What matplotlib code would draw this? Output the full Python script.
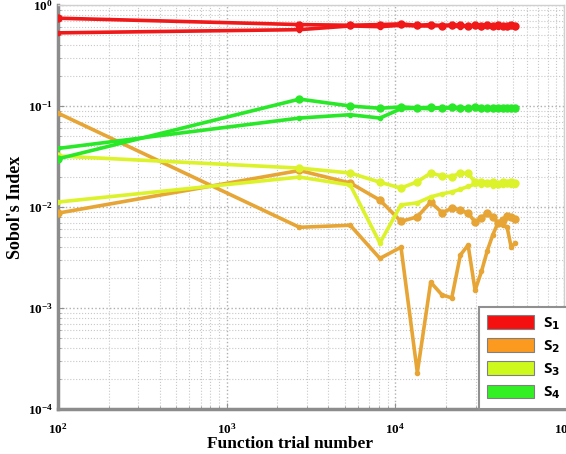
import matplotlib.pyplot as plt
from matplotlib.patches import Patch
from matplotlib.ticker import LogLocator, NullFormatter

plt.rcParams['font.family'] = 'Liberation Serif'
plt.rcParams['font.weight'] = 'bold'

# function trial numbers (x axis)
trials = [100, 2700, 5400, 8100, 10800, 13500, 16200, 18900, 21600, 24300,
          27000, 29700, 32400, 35100, 37800, 40500, 43200, 45900, 48600, 51300]

# two estimates per index
s1_a = [0.74, 0.64, 0.63, 0.64, 0.65, 0.63, 0.64, 0.62, 0.64, 0.63,
        0.62, 0.63, 0.62, 0.63, 0.62, 0.63, 0.62, 0.62, 0.63, 0.62]
s1_b = [0.53, 0.57, 0.62, 0.61, 0.63, 0.62, 0.62, 0.63, 0.62, 0.61,
        0.62, 0.62, 0.61, 0.62, 0.62, 0.61, 0.62, 0.61, 0.62, 0.61]

s2_a = [0.0087, 0.023, 0.0173, 0.0117, 0.0072, 0.0080, 0.0112, 0.0088, 0.0097, 0.0093,
        0.0087, 0.0071, 0.0078, 0.0088, 0.0080, 0.0070, 0.0074, 0.0081, 0.0079, 0.0076]
s2_b = [0.085, 0.0063, 0.0066, 0.0031, 0.0040, 0.00023, 0.0018, 0.00135, 0.00126, 0.00335,
        0.0042, 0.0015, 0.0023, 0.0037, 0.0053, 0.0069, 0.0066, 0.0064, 0.0040, 0.0044]

s3_a = [0.032, 0.0243, 0.0217, 0.0176, 0.0154, 0.0178, 0.0217, 0.0203, 0.0200, 0.0217,
        0.0215, 0.0176, 0.0178, 0.0172, 0.0176, 0.0170, 0.0175, 0.0171, 0.0176, 0.0173]
s3_b = [0.0112, 0.0198, 0.0165, 0.0044, 0.0105, 0.0110, 0.0126, 0.0135, 0.0141, 0.0150,
        0.0160, 0.0169, 0.0165, 0.0168, 0.0163, 0.0167, 0.0164, 0.0168, 0.0165, 0.0167]

s4_a = [0.030, 0.117, 0.100, 0.095, 0.098, 0.096, 0.097, 0.095, 0.098, 0.096,
        0.095, 0.097, 0.096, 0.095, 0.096, 0.095, 0.096, 0.095, 0.096, 0.095]
s4_b = [0.038, 0.076, 0.082, 0.076, 0.094, 0.095, 0.094, 0.096, 0.095, 0.094,
        0.096, 0.095, 0.094, 0.095, 0.094, 0.095, 0.094, 0.095, 0.094, 0.094]

labels = ['S$_1$', 'S$_2$', 'S$_3$', 'S$_4$']
line_colors = ['#f01818', '#e6a535', '#dcf22a', '#28e828']
patch_colors = ['#f51010', '#fb9a1e', '#cdf91c', '#33f025']

fig = plt.figure(figsize=(5.66, 4.54), dpi=100)
ax = fig.add_axes([0.1025, 0.099, 0.894, 0.89])

series = [(s1_a, s1_b), (s2_a, s2_b), (s3_a, s3_b), (s4_a, s4_b)]
for (a, b), c in zip(series, line_colors):
    ax.plot(trials, b, color=c, lw=2.6, marker='o', ms=3, zorder=3)
    ax.plot(trials, a, color=c, lw=2.6, marker='o', ms=5, zorder=3)

ax.set_xscale('log')
ax.set_yscale('log')
ax.set_xlim(100, 1e5)
ax.set_ylim(1e-4, 1)
ax.xaxis.set_minor_locator(LogLocator(subs=range(2, 10)))
ax.yaxis.set_minor_locator(LogLocator(subs=range(2, 10)))
ax.xaxis.set_minor_formatter(NullFormatter())
ax.yaxis.set_minor_formatter(NullFormatter())

ax.grid(True, which='major', color='#b0b0b0', ls=':', lw=1.0)
ax.grid(True, which='minor', color='#c8c8c8', ls=':', lw=0.8)

for side in ['left', 'bottom']:
    ax.spines[side].set_color('#8c8c8c')
    ax.spines[side].set_linewidth(2.5)
for side in ['top', 'right']:
    ax.spines[side].set_color('#d0d0d0')
    ax.spines[side].set_linewidth(1.0)

ax.tick_params(which='both', direction='in', color='#909090', labelsize=9.5)
ax.tick_params(which='major', length=4)
ax.tick_params(which='minor', length=2.5)
ax.tick_params(axis='x', pad=9)

ax.set_xlabel('Function trial number', fontsize=12.5, fontweight='bold')
ax.xaxis.set_label_coords(0.458, -0.066)
ax.set_ylabel("Sobol's Index", fontsize=13, fontweight='bold', labelpad=3)

handles = [Patch(facecolor=pc, edgecolor='#808080', lw=0.8) for pc in patch_colors]
leg = ax.legend(handles, labels, loc='lower left', bbox_to_anchor=(0.832, 0.0),
                prop={'family': 'Open Sans', 'weight': 'bold', 'size': 11},
                handlelength=3.1, handleheight=1.0, labelspacing=0.42,
                borderaxespad=0, fancybox=False, framealpha=1,
                edgecolor='#909090', handletextpad=0.6, borderpad=0.5)
leg.get_frame().set_linewidth(1.5)

fig.savefig('out.png', dpi=100)
